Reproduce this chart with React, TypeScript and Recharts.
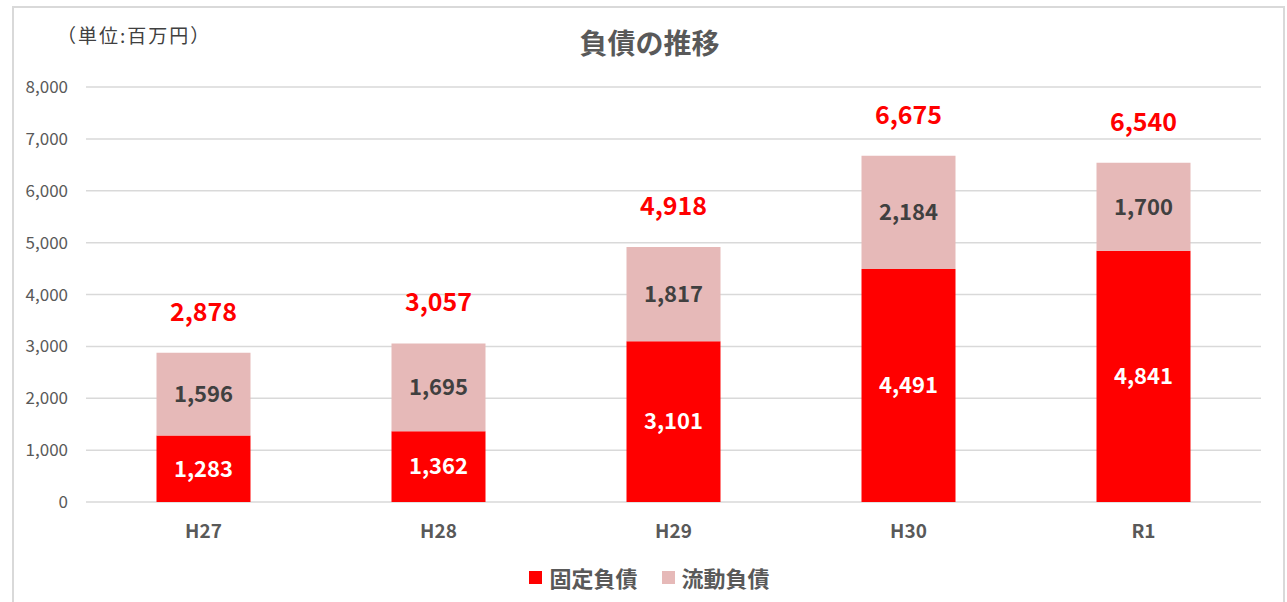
import { Bar, BarChart, CartesianGrid, LabelList, XAxis, YAxis } from "recharts";

const categories = ["H27", "H28", "H29", "H30", "R1"];
const fixedLiabilities = [1283, 1362, 3101, 4491, 4841];
const currentLiabilities = [1596, 1695, 1817, 2184, 1700];
const totals = [2878, 3057, 4918, 6675, 6540];
const yTicks = [0, 1000, 2000, 3000, 4000, 5000, 6000, 7000, 8000];

const RED = "#ff0000";
const PINK = "#e6b9b8";
const GRAY = "#595959";
const FONT = '"Noto Sans CJK JP", "Noto Sans", sans-serif';

const data = categories.map((c, i) => ({
  name: c,
  fixed: fixedLiabilities[i],
  current: currentLiabilities[i],
  total: totals[i],
}));

const fmt = (v: unknown) => Number(v).toLocaleString("en-US");

function TotalLabel(p: any) {
  const x = Number(p.x) + Number(p.width) / 2;
  const y = Number(p.y) - 32;
  return (
    <text x={x} y={y} textAnchor="middle" fill={RED} fontSize={25} fontWeight={700}>
      {fmt(p.value)}
    </text>
  );
}

const legendItems = [
  { label: "固定負債", color: RED },
  { label: "流動負債", color: PINK },
];

export default function App() {
  return (
    <div
      style={{
        position: "absolute",
        left: 0,
        top: 0,
        width: 1287,
        height: 602,
        overflow: "hidden",
        background: "#fff",
        fontFamily: FONT,
      }}
    >
      <div
        style={{
          position: "absolute",
          left: 12,
          top: 6,
          width: 1269,
          height: 640,
          border: "2px solid #d9d9d9",
        }}
      />
      <div
        style={{
          position: "absolute",
          left: 57,
          top: 21,
          fontSize: 19,
          letterSpacing: 2,
          color: "#404040",
        }}
      >
        （単位:百万円）
      </div>
      <div
        style={{
          position: "absolute",
          left: 0,
          width: 1299,
          top: 22,
          textAlign: "center",
          fontSize: 28,
          fontWeight: 700,
          color: GRAY,
        }}
      >
        負債の推移
      </div>
      <BarChart
        width={1287}
        height={602}
        data={data}
        margin={{ top: 87, right: 26, bottom: 60, left: 16 }}
        barCategoryGap="30%"
      >
        <CartesianGrid vertical={false} stroke="#d9d9d9" strokeWidth={1.5} />
        <XAxis
          dataKey="name"
          height={40}
          axisLine={false}
          tickLine={false}
          tickSize={0}
          tickMargin={23}
          tick={{ fill: GRAY, fontSize: 19, fontWeight: 700 }}
        />
        <YAxis
          width={70}
          domain={[0, 8000]}
          ticks={yTicks}
          axisLine={false}
          tickLine={false}
          tickSize={0}
          tickMargin={18}
          tickFormatter={fmt}
          tick={{ fill: GRAY, fontSize: 17 }}
        />
        <Bar dataKey="fixed" name="固定負債" stackId="a" fill={RED} isAnimationActive={false}>
          <LabelList
            dataKey="fixed"
            position="center"
            formatter={fmt}
            fill="#ffffff"
            fontSize={22}
            fontWeight={700}
          />
        </Bar>
        <Bar dataKey="current" name="流動負債" stackId="a" fill={PINK} isAnimationActive={false}>
          <LabelList
            dataKey="current"
            position="center"
            formatter={fmt}
            fill="#404040"
            fontSize={22}
            fontWeight={700}
          />
          <LabelList dataKey="total" content={<TotalLabel />} />
        </Bar>
      </BarChart>
      <div
        style={{
          position: "absolute",
          left: 0,
          top: 561,
          width: 1299,
          display: "flex",
          justifyContent: "center",
          gap: 24,
        }}
      >
        {legendItems.map((it) => (
          <div key={it.label} style={{ display: "flex", alignItems: "center", gap: 7 }}>
            <span style={{ width: 13, height: 13, background: it.color, display: "inline-block" }} />
            <span style={{ fontSize: 22, fontWeight: 700, color: GRAY }}>{it.label}</span>
          </div>
        ))}
      </div>
    </div>
  );
}
